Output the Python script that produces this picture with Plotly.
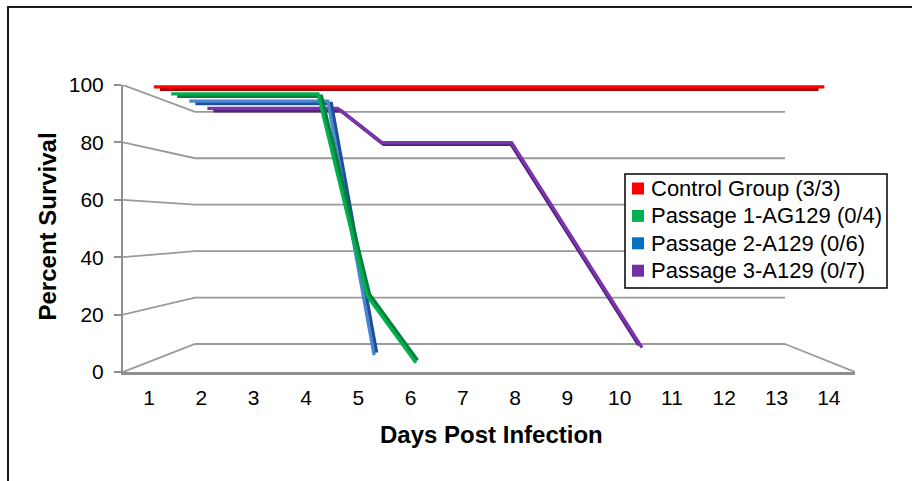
import plotly.graph_objects as go

# ---------------- data ----------------
days = [1, 2, 3, 4, 5, 6, 7, 8, 9, 10, 11, 12, 13, 14]
series_names = ["Control Group (3/3)", "Passage 1-AG129 (0/4)",
                "Passage 2-A129 (0/6)", "Passage 3-A129 (0/7)"]
control = [100, 100, 100, 100, 100, 100, 100, 100, 100, 100, 100, 100, 100, 100]
passage1 = [100, 100, 100, 100, 25, 0]
passage2 = [100, 100, 100, 100, 0]
passage3 = [100, 100, 100, 100, 85.7, 85.7, 85.7, 85.7, 57.1, 28.6, 0]
y_ticks = [0, 20, 40, 60, 80, 100]
x_ticks = days
x_title = "Days Post Infection"
y_title = "Percent Survival"

# ---------------- styles ----------------
W, H = 912, 481
FONT = "Liberation Sans, Arial, sans-serif"
GRID = "#9A9A9A"
front_colors = ["#FF0000", "#00B050", "#4A86D2", "#7A35AC"]
back_colors = ["#A80000", "#00803A", "#1F4F95", "#55207F"]
legend_colors = ["#FF0000", "#00B050", "#0070C0", "#7030A0"]
front_depth = [0.07, 0.33, 0.60, 0.87]
ribbon = 0.09

# perspective of the back wall, expressed in front-plane data units
BACK_X0, BACK_KX = 1.877, 0.806
BACK_Y0, BACK_KY = 9.76, 0.809


def proj(c, v, d):
    cx = c + d * (BACK_X0 + BACK_KX * (c - 0.5) - c)
    vy = v + d * (BACK_Y0 + BACK_KY * v - v)
    return cx, vy


def px_x(x):
    return x / W


def px_y(y):
    return 1 - y / H


fig = go.Figure()

# ---------- walls / gridlines ----------
gx, gy = [], []
xmin, xmax = 0.5, len(days) + 0.5
for v in y_ticks:
    a = proj(xmin, v, 0)
    b = proj(xmin, v, 1)
    c = proj(xmax, v, 1)
    gx += [a[0], b[0], c[0], None]
    gy += [a[1], b[1], c[1], None]
# right floor edge
a = proj(xmax, 0, 0)
b = proj(xmax, 0, 1)
gx += [a[0], b[0], None]
gy += [a[1], b[1], None]
fig.add_trace(go.Scatter(x=gx, y=gy, mode="lines", line=dict(color=GRID, width=1.8),
                         hoverinfo="skip", showlegend=False))

# ---------- series (back to front) ----------
all_series = [control, passage1, passage2, passage3]
for i in reversed(range(len(all_series))):
    vals = all_series[i]
    xs = days[:len(vals)]
    for d, col, w in [(front_depth[i] + ribbon, back_colors[i], 3.6),
                      (front_depth[i], front_colors[i], 3.3)]:
        pts = [proj(c, v, d) for c, v in zip(xs, vals)]
        fig.add_trace(go.Scatter(
            x=[p[0] for p in pts], y=[p[1] for p in pts], mode="lines",
            line=dict(color=col, width=w), name=series_names[i],
            showlegend=False, hoverinfo="skip"))

# ---------- manual legend ----------
shapes = []
annotations = []
LEG_L, LEG_T, LEG_R, LEG_B = 625, 174, 887, 288
shapes.append(dict(type="rect", xref="paper", yref="paper",
                   x0=px_x(LEG_L), x1=px_x(LEG_R), y0=px_y(LEG_B), y1=px_y(LEG_T),
                   line=dict(color="#000000", width=1.5), fillcolor="white", layer="above"))
for k, name in enumerate(series_names):
    cy = 188.5 + 27.4 * k
    shapes.append(dict(type="rect", xref="paper", yref="paper",
                       x0=px_x(632), x1=px_x(644), y0=px_y(cy + 6), y1=px_y(cy - 6),
                       line=dict(width=0), fillcolor=legend_colors[k], layer="above"))
    annotations.append(dict(text=name, xref="paper", yref="paper", x=px_x(649), y=px_y(cy),
                            xanchor="left", yanchor="middle", showarrow=False,
                            font=dict(family=FONT, size=22, color="#000000")))

# outer frame
shapes.append(dict(type="rect", xref="paper", yref="paper",
                   x0=px_x(8), x1=px_x(W + 20), y0=px_y(H + 20), y1=px_y(7),
                   line=dict(color="#1A1A1A", width=2), layer="above"))

# axis titles
annotations.append(dict(text="<b>%s</b>" % y_title, xref="paper", yref="paper",
                        x=px_x(46.5), y=px_y(227), textangle=-90, showarrow=False,
                        xanchor="center", yanchor="middle",
                        font=dict(family=FONT, size=24, color="#000000")))
annotations.append(dict(text="<b>%s</b>" % x_title, xref="paper", yref="paper",
                        x=px_x(491), y=px_y(434.5), showarrow=False,
                        xanchor="center", yanchor="middle",
                        font=dict(family=FONT, size=24, color="#000000")))

fig.update_layout(
    width=W, height=H,
    margin=dict(l=0, r=0, t=0, b=0, pad=0, autoexpand=False),
    paper_bgcolor="white", plot_bgcolor="white",
    showlegend=False,
    shapes=shapes, annotations=annotations,
    xaxis=dict(domain=[px_x(123), px_x(855)], range=[xmin, xmax],
               tickvals=x_ticks, ticktext=[str(d) for d in x_ticks],
               showline=True, linecolor="#8F8F8F", linewidth=2.5,
               showgrid=False, zeroline=False, ticks="", ticklabelstandoff=5,
               automargin=False,
               tickfont=dict(family=FONT, size=21, color="#000000")),
    yaxis=dict(domain=[px_y(372), px_y(85)], range=[0, 100],
               tickvals=y_ticks, ticktext=[str(v) for v in y_ticks],
               showline=True, linecolor="#8F8F8F", linewidth=2,
               showgrid=False, zeroline=False, ticks="outside", ticklen=7,
               tickcolor="#8F8F8F", tickwidth=1.6, ticklabelstandoff=6,
               automargin=False,
               tickfont=dict(family=FONT, size=21, color="#000000")),
)

fig.write_html("out.html")
